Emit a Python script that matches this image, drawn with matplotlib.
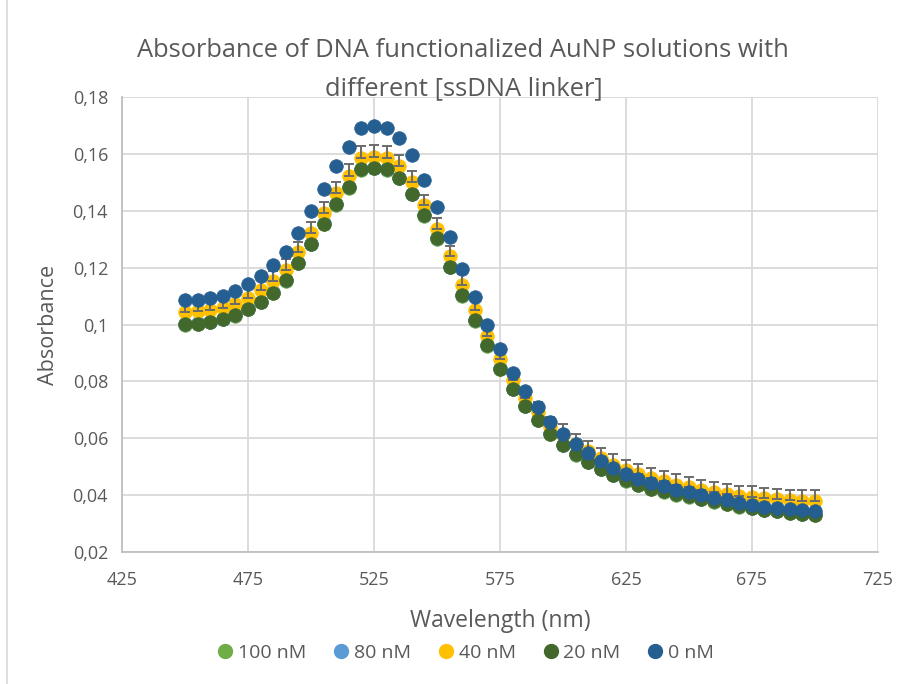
import matplotlib
matplotlib.use('Agg')
import matplotlib.pyplot as plt
from matplotlib.lines import Line2D
from matplotlib.ticker import FuncFormatter

# wavelength (nm)
wavelength = [450, 455, 460, 465, 470, 475, 480, 485, 490, 495,
              500, 505, 510, 515, 520, 525, 530, 535, 540, 545,
              550, 555, 560, 565, 570, 575, 580, 585, 590, 595,
              600, 605, 610, 615, 620, 625, 630, 635, 640, 645,
              650, 655, 660, 665, 670, 675, 680, 685, 690, 695, 700]

abs_0nM = [0.1085, 0.1087, 0.1094, 0.1102, 0.1117, 0.1141, 0.1170, 0.1208, 0.1255, 0.1322,
           0.1398, 0.1478, 0.1556, 0.1624, 0.1692, 0.1697, 0.1692, 0.1656, 0.1595, 0.1507,
           0.1413, 0.1308, 0.1196, 0.1097, 0.1000, 0.0914, 0.0831, 0.0766, 0.0711, 0.0657,
           0.0616, 0.0581, 0.0548, 0.0520, 0.0496, 0.0475, 0.0458, 0.0442, 0.0431, 0.0419,
           0.0411, 0.0399, 0.0390, 0.0382, 0.0373, 0.0367, 0.0360, 0.0356, 0.0350, 0.0346, 0.0343]

abs_20nM = [0.1001, 0.1003, 0.1009, 0.1021, 0.1032, 0.1056, 0.1079, 0.1112, 0.1155, 0.1216,
            0.1284, 0.1355, 0.1423, 0.1483, 0.1546, 0.1550, 0.1546, 0.1516, 0.1460, 0.1384,
            0.1303, 0.1202, 0.1103, 0.1015, 0.0927, 0.0845, 0.0774, 0.0714, 0.0665, 0.0616,
            0.0576, 0.0543, 0.0516, 0.0492, 0.0471, 0.0452, 0.0437, 0.0423, 0.0413, 0.0403,
            0.0396, 0.0386, 0.0378, 0.0370, 0.0361, 0.0355, 0.0348, 0.0344, 0.0338, 0.0334, 0.0331]

abs_40nM = [0.1044, 0.1046, 0.1050, 0.1058, 0.1071, 0.1094, 0.1120, 0.1152, 0.1193, 0.1255,
            0.1323, 0.1393, 0.1462, 0.1524, 0.1587, 0.1591, 0.1587, 0.1557, 0.1501, 0.1419,
            0.1337, 0.1240, 0.1140, 0.1050, 0.0958, 0.0880, 0.0805, 0.0742, 0.0692, 0.0639,
            0.0613, 0.0580, 0.0554, 0.0529, 0.0507, 0.0488, 0.0475, 0.0460, 0.0448, 0.0437,
            0.0427, 0.0418, 0.0410, 0.0404, 0.0397, 0.0395, 0.0390, 0.0385, 0.0383, 0.0381, 0.0381]

err_40nM = [0.0036, 0.0036, 0.0036, 0.0036, 0.0036, 0.0036, 0.0036, 0.0036, 0.0036, 0.0035,
            0.0037, 0.0038, 0.0039, 0.0040, 0.0040, 0.0040, 0.0040, 0.0040, 0.0039, 0.0038,
            0.0038, 0.0037, 0.0037, 0.0037, 0.0036, 0.0036, 0.0036, 0.0036, 0.0036, 0.0036,
            0.0036, 0.0036, 0.0036, 0.0036, 0.0036, 0.0036, 0.0036, 0.0036, 0.0036, 0.0036,
            0.0036, 0.0036, 0.0036, 0.0036, 0.0036, 0.0036, 0.0036, 0.0036, 0.0036, 0.0036, 0.0036]

# hidden under the 20 nM markers
abs_80nM = [0.1002, 0.1004, 0.1010, 0.1021, 0.1033, 0.1056, 0.1080, 0.1113, 0.1156, 0.1217,
            0.1285, 0.1356, 0.1424, 0.1484, 0.1547, 0.1551, 0.1547, 0.1517, 0.1461, 0.1385,
            0.1304, 0.1203, 0.1104, 0.1016, 0.0928, 0.0846, 0.0775, 0.0715, 0.0666, 0.0617,
            0.0577, 0.0544, 0.0517, 0.0493, 0.0472, 0.0453, 0.0438, 0.0424, 0.0414, 0.0404,
            0.0397, 0.0387, 0.0379, 0.0371, 0.0362, 0.0356, 0.0349, 0.0345, 0.0339, 0.0335, 0.0332]
abs_100nM = [0.1000, 0.1002, 0.1008, 0.1020, 0.1031, 0.1055, 0.1078, 0.1111, 0.1154, 0.1215,
             0.1283, 0.1354, 0.1422, 0.1482, 0.1545, 0.1549, 0.1545, 0.1515, 0.1459, 0.1383,
             0.1302, 0.1201, 0.1102, 0.1014, 0.0926, 0.0844, 0.0773, 0.0713, 0.0664, 0.0615,
             0.0575, 0.0542, 0.0515, 0.0491, 0.0470, 0.0451, 0.0436, 0.0422, 0.0412, 0.0402,
             0.0395, 0.0385, 0.0377, 0.0369, 0.0360, 0.0354, 0.0347, 0.0343, 0.0337, 0.0333, 0.0330]

labels = ['100 nM', '80 nM', '40 nM', '20 nM', '0 nM']
colors = ['#70AD47', '#5B9BD5', '#FFC000', '#43682B', '#255E91']
series = [abs_100nM, abs_80nM, abs_40nM, abs_20nM, abs_0nM]

plt.rcParams['font.family'] = ['Open Sans', 'DejaVu Sans']
text_color = '#595959'

fig = plt.figure(figsize=(9.05, 6.84), dpi=100)
ax = fig.add_axes([0.1348, 0.193, 0.8352, 0.665])

for i, (lab, col, ys) in enumerate(zip(labels, colors, series)):
    ax.plot(wavelength, ys, linestyle='none', marker='o', markersize=9.8,
            color=col, markeredgecolor=col, markeredgewidth=0.5, zorder=3 + i)
    if lab == '40 nM':
        ax.errorbar(wavelength, ys, yerr=[[0] * len(err_40nM), err_40nM], fmt='none',
                    ecolor='#6b6b6b', elinewidth=1.4, capsize=3.8, capthick=1.4,
                    zorder=3 + i)

ax.set_xlim(425, 725)
ax.set_ylim(0.02, 0.18)
ax.set_xticks(range(425, 726, 50))
ax.set_yticks([0.02, 0.04, 0.06, 0.08, 0.10, 0.12, 0.14, 0.16, 0.18])
ax.yaxis.set_major_formatter(FuncFormatter(lambda v, p: ('%.2f' % v).rstrip('0').replace('.', ',')))

ax.grid(True, color='#d9d9d9', linewidth=1.3, zorder=0)
ax.set_axisbelow(True)
for side in ['top', 'right']:
    ax.spines[side].set_visible(False)
for side in ['left', 'bottom']:
    ax.spines[side].set_color('#bfbfbf')
    ax.spines[side].set_linewidth(1.3)
ax.tick_params(length=0, labelsize=13, colors=text_color)
ax.tick_params(axis='x', pad=14)
ax.tick_params(axis='y', pad=10)

ax.set_xlabel('Wavelength (nm)', fontsize=16.5, color=text_color, labelpad=14)
ax.set_ylabel('Absorbance', fontsize=15.5, color=text_color, labelpad=10)
fig.text(0.512, 0.926, 'Absorbance of DNA functionalized AuNP solutions with',
         ha='center', va='center', fontsize=18.4, color=text_color)
fig.text(0.512, 0.870, 'different [ssDNA linker]',
         ha='center', va='center', fontsize=18.4, color=text_color)

handles = [Line2D([], [], linestyle='none', marker='o', markersize=10, color=c) for c in colors]
fig.legend(handles, labels, loc='center', bbox_to_anchor=(0.512, 0.045), ncol=5,
           frameon=False, fontsize=14, handletextpad=0.0, columnspacing=1.15,
           handlelength=1.3, labelcolor=text_color)

# chart border on the left
fig.add_artist(Line2D([0.008, 0.008], [0, 1], color='#d9d9d9', linewidth=1.2))

fig.savefig('out.png', dpi=100)
